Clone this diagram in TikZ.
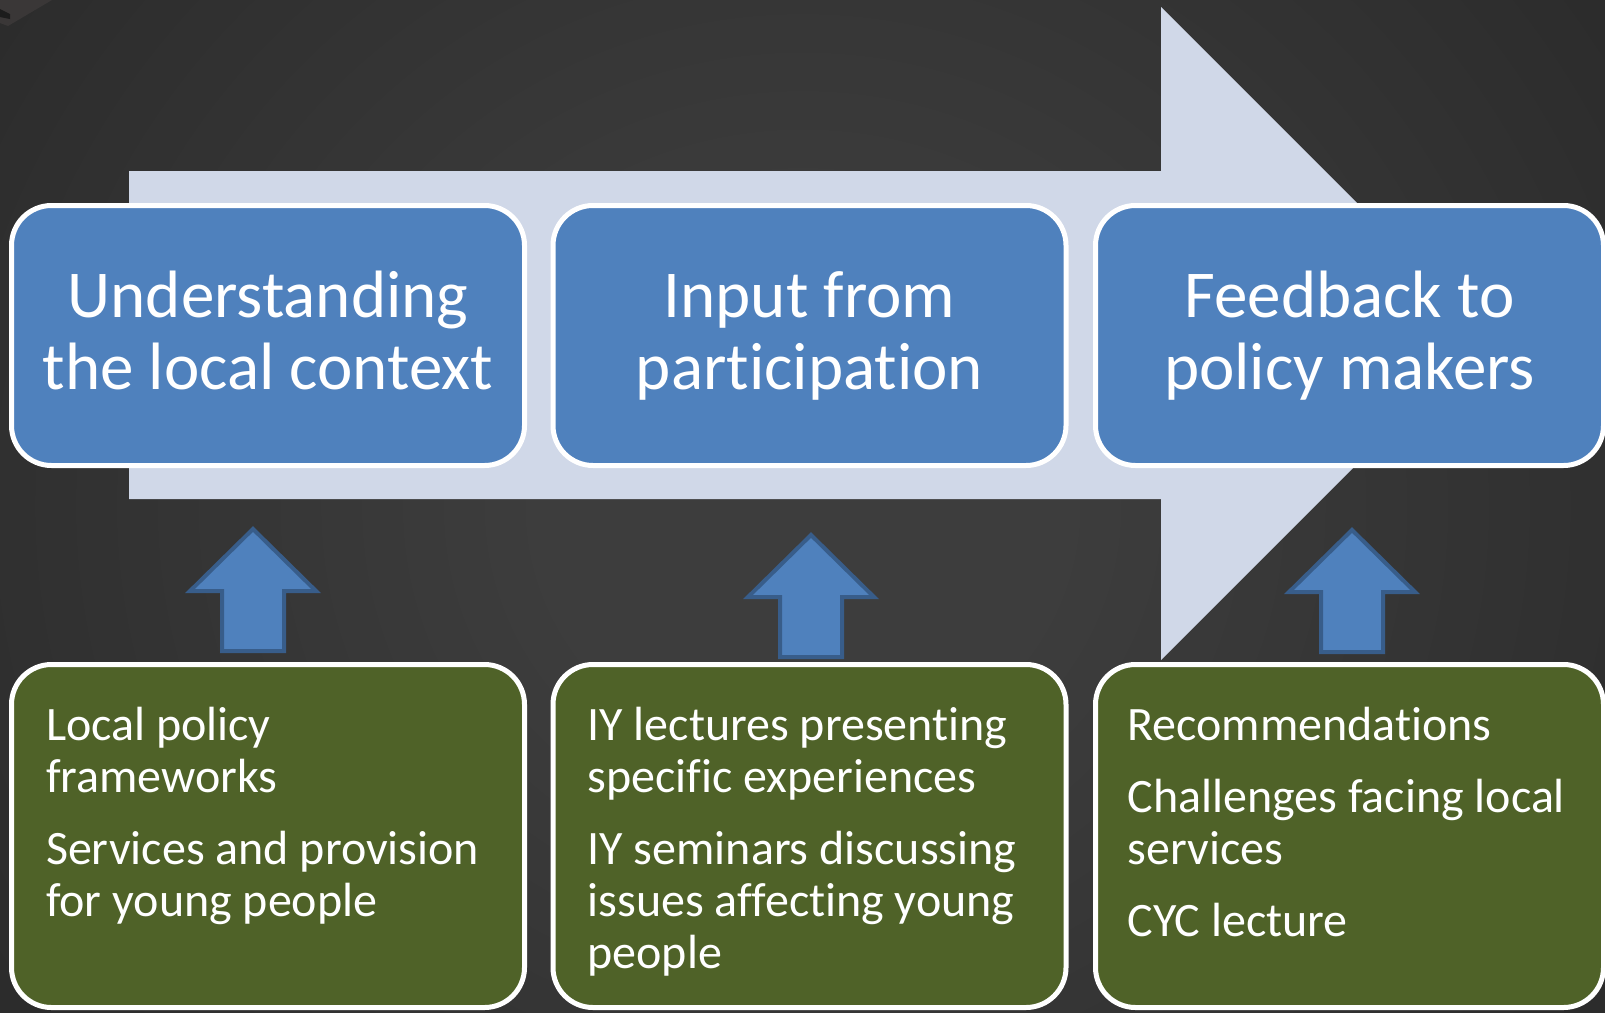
\documentclass[tikz,border=0pt]{standalone}
\usepackage{fontspec}
\setmainfont{Carlito}[Ligatures={NoCommon}]

\definecolor{bgin}{HTML}{3D3D3D}
\definecolor{bgout}{HTML}{1C1C1C}
\definecolor{flowfill}{HTML}{D0D8E8}
\definecolor{stageblue}{HTML}{4F81BD}
\definecolor{arrowline}{HTML}{385D8A}
\definecolor{itemgreen}{HTML}{4F6228}
\definecolor{cornergray}{HTML}{3A3737}

\pgfdeclareradialshading{bgglow}{\pgfpoint{0bp}{0bp}}{color(0bp)=(bgin); color(8bp)=(bgin); color(50bp)=(bgout); color(72bp)=(bgout)}

% strut for the two-line stage titles, and the text block of an item box
\newcommand{\stagestrut}{\rule[-18pt]{0pt}{72pt}}
\newcommand{\itemtext}[1]{\parbox[c][343pt][t]{460pt}{\raggedright\leftskip=8pt\setlength{\parskip}{20pt}\rule{0pt}{75.5pt}#1}}

\begin{document}
\begin{tikzpicture}[x=1pt, y=-1pt,
    stage/.style={draw=white, line width=5pt, fill=stageblue, rounded corners=40pt, minimum width=513pt, minimum height=260pt, inner sep=0pt, align=center, text=white, font=\fontsize{67}{72}\selectfont},
    items/.style={draw=white, line width=5pt, fill=itemgreen, rounded corners=40pt, minimum width=513pt, minimum height=343pt, inner sep=0pt, text=white, font=\fontsize{48}{52}\selectfont},
    uparr/.style={fill=stageblue, draw=arrowline, line width=4pt, line join=miter}
]
\useasboundingbox (0,0) rectangle (1605,1012);
\clip (0,0) rectangle (1605,1012);

% background
\shade[shading=bgglow] (0,-250) rectangle (1605,1262);
\fill[cornergray] (0,0) -- (52,0) -- (8,26) -- (0,23) -- cycle;
\fill[bgout] (0,9) -- (10,14) -- (10,19) -- (0,17) -- cycle;

% big process arrow
\fill[flowfill] (129,171) -- (1161,171) -- (1161,7) -- (1487.5,333.5) -- (1161,660) -- (1161,499) -- (129,499) -- cycle;

\node[stage]                      (context)  at (268,335.5)    {\stagestrut Understanding\\\stagestrut the local context};
\node[stage]                      (input)    at (809.5,335.5)  {\stagestrut Input from\\\stagestrut participation};
\node[stage, minimum width=508pt] (feedback) at (1349.5,335.5) {\stagestrut Feedback to\\\stagestrut policy makers};

% block arrows pointing up
\foreach \cx/\ty in {253/529, 811/535, 1352/530}
  \draw[uparr] (\cx,\ty) -- ++(63,62) -- ++(-32,0) -- ++(0,60) -- ++(-62,0) -- ++(0,-60) -- ++(-32,0) -- cycle;

\node[items]                      (policy)   at (268,836)    {\itemtext{Local policy frameworks\par Services and provision for young people}};
\node[items]                      (lectures) at (809.5,836)  {\itemtext{IY lectures presenting specific experiences\par IY seminars discussing issues affecting young people}};
\node[items, minimum width=508pt] (results)  at (1349.5,836) {\itemtext{Recommendations\par Challenges facing local services\par CYC lecture}};
\end{tikzpicture}
\end{document}
